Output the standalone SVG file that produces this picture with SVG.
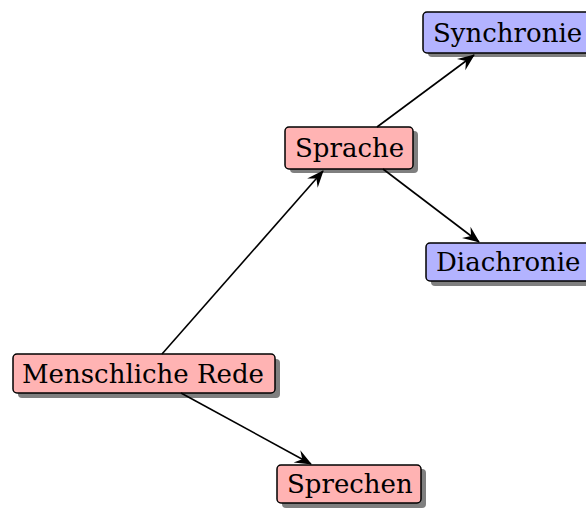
<svg xmlns="http://www.w3.org/2000/svg" width="586" height="508" viewBox="0 0 586 508">
<style>
.box{stroke:#000;stroke-width:1.5}
.red{fill:#ffb3b3}
.blue{fill:#b3b3ff}
.sh{fill:#7f7f7f}
.lbl{font-family:"DejaVu Serif",serif;font-size:26px;fill:#000;text-anchor:start;dominant-baseline:central}
.edge{stroke:#000;stroke-width:1.6;fill:none;marker-end:url(#ah)}
</style>
<defs>
<marker id="ah" viewBox="0 0 10 10" refX="9" refY="5" markerWidth="10" markerHeight="10" markerUnits="userSpaceOnUse" orient="auto" overflow="visible">
<path d="M-7,-2 L10,5 L-7,12 L-1,5 Z" fill="#000"/>
</marker>
</defs>
<g id="synchronie">
<rect class="sh" x="428" y="16" width="166" height="41" rx="4"/>
<rect class="box blue" x="423" y="12" width="166" height="41" rx="4"/>
<text class="lbl" x="433" y="33">Synchronie</text>
</g>
<g id="sprache">
<rect class="sh" x="290" y="131" width="128" height="42" rx="4"/>
<rect class="box red" x="285" y="127" width="128" height="42" rx="4"/>
<text class="lbl" x="295" y="148">Sprache</text>
</g>
<g id="diachronie">
<rect class="sh" x="431" y="247" width="166" height="39" rx="4"/>
<rect class="box blue" x="426" y="243" width="166" height="38" rx="4"/>
<text class="lbl" x="436" y="262">Diachronie</text>
</g>
<g id="menschliche-rede">
<rect class="sh" x="18" y="359" width="262" height="39" rx="4"/>
<rect class="box red" x="13" y="354" width="262" height="39" rx="4"/>
<text class="lbl" x="22" y="374">Menschliche Rede</text>
</g>
<g id="sprechen">
<rect class="sh" x="282" y="469" width="144" height="39" rx="4"/>
<rect class="box red" x="277" y="465" width="144" height="38" rx="4"/>
<text class="lbl" x="287" y="484">Sprechen</text>
</g>
<g id="connectors">
<line class="edge" x1="162" y1="354" x2="323" y2="171"/>
<line class="edge" x1="181" y1="393" x2="311" y2="464"/>
<line class="edge" x1="377" y1="127" x2="474" y2="55"/>
<line class="edge" x1="383" y1="169" x2="479" y2="242"/>
</g>
</svg>
